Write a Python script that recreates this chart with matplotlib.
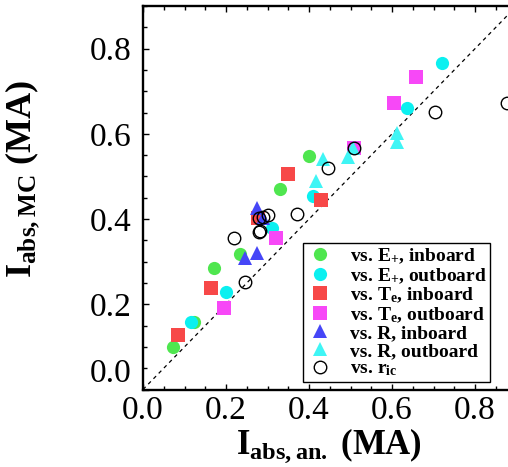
import matplotlib
matplotlib.use("Agg")
import matplotlib.pyplot as plt
from matplotlib.ticker import MultipleLocator

plt.rcParams["font.family"] = ["Liberation Serif", "DejaVu Serif"]
plt.rcParams["mathtext.fontset"] = "custom"
plt.rcParams["mathtext.rm"] = "Liberation Serif:bold"
plt.rcParams["mathtext.bf"] = "Liberation Serif:bold"
plt.rcParams["mathtext.it"] = "Liberation Serif:bold"

# Absorbed current: analytic estimate (x) vs Monte Carlo (y), in MA
e_in_x = [0.073, 0.124, 0.172, 0.234, 0.330, 0.401]
e_in_y = [0.100, 0.159, 0.286, 0.317, 0.471, 0.547]

e_out_x = [0.116, 0.199, 0.310, 0.410, 0.637, 0.720]
e_out_y = [0.159, 0.230, 0.378, 0.454, 0.660, 0.766]

te_in_x = [0.084, 0.165, 0.278, 0.350, 0.428]
te_in_y = [0.128, 0.238, 0.402, 0.507, 0.445]

te_out_x = [0.196, 0.320, 0.508, 0.605, 0.658]
te_out_y = [0.191, 0.356, 0.566, 0.673, 0.734]

r_in_x = [0.246, 0.275, 0.290, 0.275]
r_in_y = [0.308, 0.321, 0.402, 0.426]

r_out_x = [0.418, 0.433, 0.495, 0.505, 0.613, 0.613]
r_out_y = [0.490, 0.540, 0.545, 0.568, 0.582, 0.601]

ric_x = [0.220, 0.246, 0.279, 0.283, 0.280, 0.300, 0.290, 0.370, 0.445, 0.508, 0.704, 0.876]
ric_y = [0.355, 0.253, 0.369, 0.373, 0.403, 0.410, 0.405, 0.411, 0.521, 0.566, 0.652, 0.672]

labels = [r"vs. E$_{+}$, inboard", r"vs. E$_{+}$, outboard",
          r"vs. T$_{e}$, inboard", r"vs. T$_{e}$, outboard",
          r"vs. R, inboard", r"vs. R, outboard", r"vs. r$_{ic}$"]

W, H = 508, 467
fig = plt.figure(figsize=(W / 100, H / 100), dpi=100)
ax = fig.add_axes([143 / W, 77.5 / H, 373.5 / W, 383.4 / H])

ms = 9.5
ax.plot([0, 0.9], [0, 0.9], ls=(0, (3, 3)), color="black", lw=0.9, zorder=1)
series = [
    (e_in_x, e_in_y, "o", "#4fe64f"),
    (e_out_x, e_out_y, "o", "#0bf0f0"),
    (te_in_x, te_in_y, "s", "#f74848"),
    (te_out_x, te_out_y, "s", "#f748f7"),
    (r_in_x, r_in_y, "^", "#4646f7"),
    (r_out_x, r_out_y, "^", "#3ff5f5"),
]
handles = []
for (xs, ys, mk, col), lab in zip(series, labels):
    h, = ax.plot(xs, ys, ls="none", marker=mk, ms=ms, mfc=col, mec=col,
                 mew=0, label=lab, zorder=3)
    handles.append(h)
h, = ax.plot(ric_x, ric_y, ls="none", marker="o", ms=9, mfc="none",
             mec="black", mew=1.0, label=labels[-1], zorder=4)
handles.append(h)

ax.set_xlim(0, 0.9)
ax.set_ylim(0, 0.9)
ax.xaxis.set_minor_locator(MultipleLocator(0.05))
ax.yaxis.set_minor_locator(MultipleLocator(0.05))
ax.tick_params(which="both", direction="in", top=True, right=True, width=1.0)
ax.tick_params(which="major", length=4, labelsize=24)
ax.tick_params(axis="x", which="major", pad=4)
ax.tick_params(axis="y", which="major", pad=8)
ax.tick_params(which="minor", length=3)
ticks = [0.0, 0.2, 0.4, 0.6, 0.8]
tick_text = ["0.0", "0.2", "0.4", "0.6", "0.8"]
ax.set_xticks(ticks)
ax.set_xticklabels(tick_text)
ax.set_yticks(ticks)
ax.set_yticklabels(tick_text)
ax.get_yticklabels()[0].set_verticalalignment("bottom")
for sp in ax.spines.values():
    sp.set_linewidth(1.7)

ax.set_xlabel(r"I$_{\mathrm{abs,an.}}$ (MA)", fontsize=25, fontweight="bold")
ax.set_ylabel(r"I$_{\mathrm{abs,MC}}$ (MA)", fontsize=26, fontweight="bold")
ax.xaxis.set_label_coords(0.497, -0.096)
ax.yaxis.set_label_coords(-0.27, 0.55)

leg = ax.legend(handles=handles, loc="lower left",
                bbox_to_anchor=(303 / W, 1 - 382 / H),
                bbox_transform=fig.transFigure,
                prop={"size": 14, "weight": "bold"}, frameon=True,
                fancybox=False, edgecolor="black", framealpha=1,
                borderpad=0.2, labelspacing=0.0, handlelength=1.3,
                handletextpad=0.9, borderaxespad=0)
leg.get_frame().set_linewidth(1.0)

fig.savefig("out.png", dpi=100)
